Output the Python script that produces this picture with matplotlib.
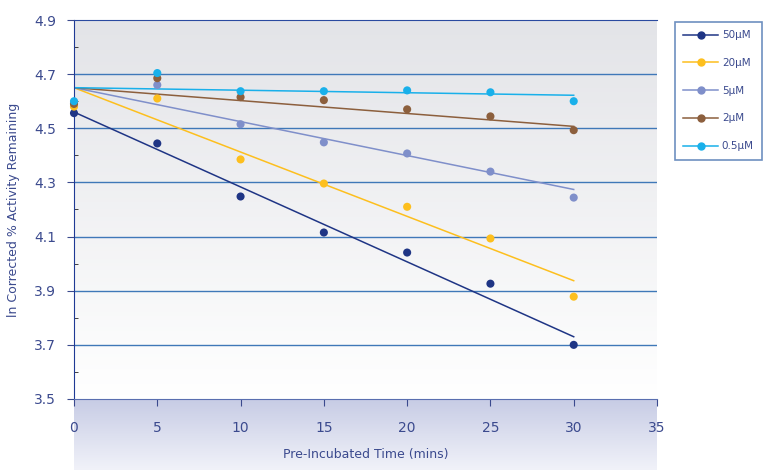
import numpy as np
import matplotlib.pyplot as plt
from matplotlib.lines import Line2D

# pre-incubated time (mins)
times = [0, 5, 10, 15, 20, 25, 30]

labels = ['50\u03bcM', '20\u03bcM', '5\u03bcM', '2\u03bcM', '0.5\u03bcM']
colors = ['#1f3585', '#fdbf1e', '#7f8fca', '#8c5f3d', '#19b0ea']

# ln corrected % activity remaining
y_50 = [4.556, 4.444, 4.248, 4.115, 4.041, 3.926, 3.700]
y_20 = [4.580, 4.610, 4.385, 4.296, 4.210, 4.093, 3.878]
y_5 = [4.593, 4.660, 4.515, 4.448, 4.407, 4.340, 4.244]
y_2 = [4.590, 4.685, 4.615, 4.604, 4.570, 4.544, 4.493]
y_05 = [4.600, 4.704, 4.637, 4.637, 4.640, 4.633, 4.600]
series = [y_50, y_20, y_5, y_2, y_05]

# trend line values at t=0 and t=30
fit_x = [0, 30]
fit_50 = [4.560, 3.730]
fit_20 = [4.650, 3.937]
fit_5 = [4.650, 4.274]
fit_2 = [4.650, 4.507]
fit_05 = [4.650, 4.622]
fits = [fit_50, fit_20, fit_5, fit_2, fit_05]

txt = '#3b4a8e'

fig = plt.figure(figsize=(7.63, 4.70), dpi=100)

# band behind the x axis labels
band = fig.add_axes([74 / 763, 0, (657 - 74) / 763, 71 / 470])
band.imshow(np.linspace(0, 1, 100).reshape(-1, 1), cmap=plt.matplotlib.colors.LinearSegmentedColormap.from_list('b', ['#c7cce5', '#f1f2f9']),
            aspect='auto', extent=[0, 1, 0, 1], origin='upper')
band.axis('off')

ax = fig.add_axes([74 / 763, 1 - 399 / 470, (657 - 74) / 763, (399 - 20) / 470])
ax.set_facecolor('none')
grad = plt.matplotlib.colors.LinearSegmentedColormap.from_list('g', ['#e3e4e8', '#ffffff'])
ax.imshow(np.linspace(0, 1, 100).reshape(-1, 1), cmap=grad, aspect='auto',
          extent=[0, 35, 3.5, 4.9], origin='upper', zorder=0)

for yv in [3.7, 3.9, 4.1, 4.3, 4.5, 4.7]:
    ax.axhline(yv, color='#3f78b8', lw=1.0, zorder=1)

for ys, fv, c in zip(series, fits, colors):
    ax.plot(fit_x, fv, color=c, lw=1.1, zorder=2)
    ax.scatter(times, ys, color=c, s=34, zorder=3, edgecolors='none', clip_on=False)

ax.set_xlim(0, 35)
ax.set_ylim(3.5, 4.9)
ax.set_xticks(range(0, 36, 5))
ax.set_yticks([3.5, 3.7, 3.9, 4.1, 4.3, 4.5, 4.7, 4.9])
ax.set_yticks(np.arange(3.6, 4.9, 0.2), minor=True)
ax.tick_params(axis='y', which='minor', direction='in', length=3, color='#222222')
ax.tick_params(axis='both', which='major', colors=txt, labelcolor=txt, labelsize=10, length=5)
ax.tick_params(axis='x', pad=11)
ax.tick_params(axis='y', pad=8)
for s in ['right']:
    ax.spines[s].set_visible(False)
ax.spines['top'].set_color('#2a4aa0')
ax.spines['left'].set_color('#1f3a95')
ax.spines['bottom'].set_color('#5a6fb0')

ax.set_xlabel('Pre-Incubated Time (mins)', color=txt, fontsize=9, labelpad=9)
ax.set_ylabel('ln Corrected % Activity Remaining', color=txt, fontsize=9, labelpad=10)

handles = [Line2D([0], [0], color=c, lw=1.1, marker='o', markersize=5) for c in colors]
leg = fig.legend(handles, labels, loc='upper left', bbox_to_anchor=(675 / 763, 1 - 22 / 470),
                 borderaxespad=0, frameon=True, fancybox=False, fontsize=7.5, labelspacing=1.7,
                 handlelength=3.3, handletextpad=0.4, borderpad=0.8, labelcolor=txt)
leg.get_frame().set_edgecolor('#4a74b0')
leg.get_frame().set_linewidth(1.2)

fig.savefig('out.png', dpi=100)
